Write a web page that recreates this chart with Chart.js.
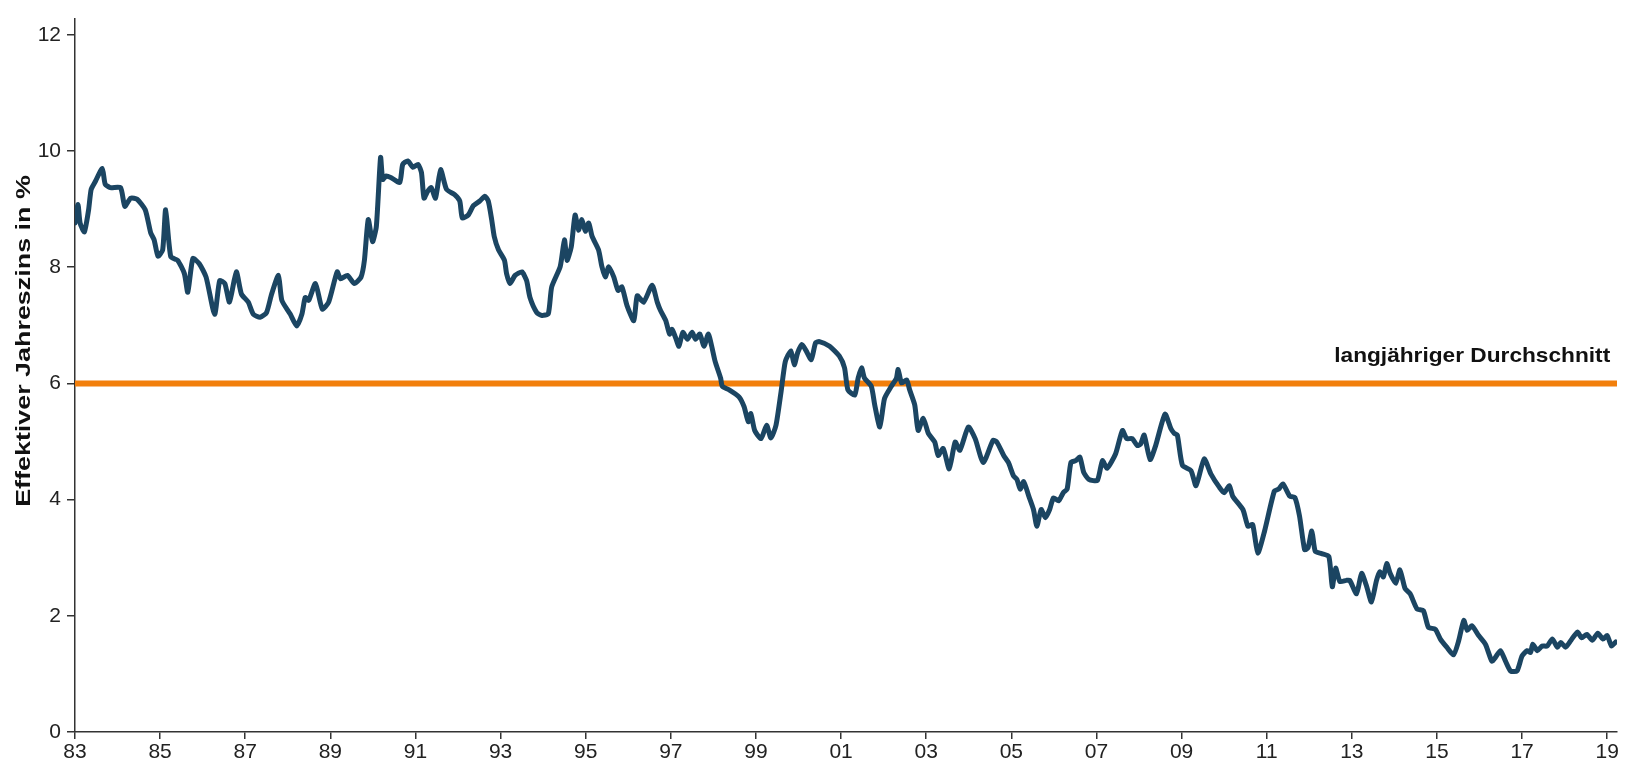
<!DOCTYPE html>
<html>
<head>
<meta charset="utf-8">
<title>Effektiver Jahreszins</title>
<script src="https://cdn.jsdelivr.net/npm/chart.js@4.4.1/dist/chart.umd.min.js"></script>
<style>
  html, body { margin: 0; padding: 0; background: #fff; }
  #wrap { width: 1629px; height: 769px; }
</style>
</head>
<body>
<div id="wrap"><canvas id="rateChart" width="1629" height="769"></canvas></div>
<script>
// dates as decimal years, rates in %
const dates = [
  1983.00, 1983.07, 1983.12, 1983.22, 1983.32, 1983.38, 1983.48, 1983.64, 1983.71, 1983.83,
  1984.07, 1984.17, 1984.31, 1984.46, 1984.65, 1984.78, 1984.86, 1984.95, 1985.06, 1985.13,
  1985.25, 1985.41, 1985.57, 1985.65, 1985.77, 1985.92, 1986.08, 1986.28, 1986.40, 1986.52,
  1986.63, 1986.79, 1986.91, 1987.07, 1987.19, 1987.35, 1987.50, 1987.62, 1987.78, 1987.86,
  1988.06, 1988.21, 1988.33, 1988.41, 1988.49, 1988.65, 1988.81, 1988.96, 1989.16, 1989.24,
  1989.40, 1989.56, 1989.72, 1989.80, 1989.89, 1989.99, 1990.08, 1990.18, 1990.23, 1990.31,
  1990.43, 1990.63, 1990.70, 1990.82, 1990.94, 1991.06, 1991.14, 1991.20, 1991.29, 1991.37,
  1991.47, 1991.59, 1991.73, 1991.92, 1992.04, 1992.10, 1992.24, 1992.36, 1992.51, 1992.63,
  1992.71, 1992.79, 1992.85, 1992.95, 1993.09, 1993.14, 1993.22, 1993.34, 1993.50, 1993.61,
  1993.69, 1993.85, 1993.97, 1994.12, 1994.20, 1994.40, 1994.50, 1994.56, 1994.66, 1994.75,
  1994.83, 1994.91, 1994.99, 1995.07, 1995.15, 1995.30, 1995.38, 1995.46, 1995.54, 1995.66,
  1995.76, 1995.85, 1995.97, 1996.13, 1996.21, 1996.36, 1996.56, 1996.68, 1996.76, 1996.88,
  1996.97, 1997.03, 1997.11, 1997.19, 1997.28, 1997.39, 1997.50, 1997.58, 1997.68, 1997.78,
  1997.88, 1997.96, 1998.04, 1998.17, 1998.21, 1998.37, 1998.60, 1998.72, 1998.82, 1998.88,
  1998.97, 1999.12, 1999.25, 1999.35, 1999.47, 1999.59, 1999.69, 1999.82, 1999.90, 1999.98,
  2000.08, 2000.18, 2000.30, 2000.40, 2000.49, 2000.73, 2000.96, 2001.08, 2001.16, 2001.32,
  2001.40, 2001.48, 2001.55, 2001.71, 2001.79, 2001.91, 2002.02, 2002.18, 2002.30, 2002.34,
  2002.42, 2002.54, 2002.61, 2002.73, 2002.81, 2002.93, 2003.05, 2003.20, 2003.28, 2003.40,
  2003.54, 2003.68, 2003.79, 2003.99, 2004.15, 2004.34, 2004.57, 2004.66, 2004.82, 2004.93,
  2005.05, 2005.13, 2005.21, 2005.29, 2005.41, 2005.52, 2005.60, 2005.70, 2005.80, 2005.90,
  2005.99, 2006.11, 2006.22, 2006.31, 2006.40, 2006.51, 2006.61, 2006.70, 2006.82, 2007.02,
  2007.14, 2007.25, 2007.45, 2007.61, 2007.71, 2007.84, 2007.96, 2008.04, 2008.12, 2008.26,
  2008.39, 2008.61, 2008.75, 2008.83, 2008.90, 2009.02, 2009.22, 2009.34, 2009.53, 2009.69,
  2009.89, 2010.00, 2010.12, 2010.20, 2010.44, 2010.56, 2010.67, 2010.79, 2010.95, 2011.18,
  2011.28, 2011.38, 2011.54, 2011.66, 2011.77, 2011.89, 2011.97, 2012.06, 2012.14, 2012.29,
  2012.46, 2012.54, 2012.62, 2012.72, 2012.87, 2012.95, 2013.11, 2013.23, 2013.35, 2013.46,
  2013.58, 2013.66, 2013.74, 2013.82, 2013.90, 2014.03, 2014.13, 2014.25, 2014.37, 2014.53,
  2014.68, 2014.80, 2014.96, 2015.08, 2015.23, 2015.39, 2015.51, 2015.63, 2015.71, 2015.82,
  2015.98, 2016.14, 2016.29, 2016.37, 2016.49, 2016.61, 2016.73, 2016.88, 2017.00, 2017.12,
  2017.20, 2017.25, 2017.36, 2017.47, 2017.59, 2017.71, 2017.83, 2017.91, 2018.02, 2018.15,
  2018.30, 2018.40, 2018.52, 2018.65, 2018.78, 2018.90, 2019.00, 2019.10, 2019.20
];
const rates = [
  8.76, 9.08, 8.76, 8.61, 8.99, 9.34, 9.48, 9.70, 9.43, 9.37,
  9.37, 9.05, 9.19, 9.17, 8.99, 8.59, 8.47, 8.19, 8.30, 8.99,
  8.18, 8.12, 7.89, 7.57, 8.15, 8.06, 7.83, 7.19, 7.77, 7.72,
  7.40, 7.92, 7.54, 7.40, 7.19, 7.14, 7.22, 7.54, 7.86, 7.43,
  7.19, 6.99, 7.19, 7.48, 7.43, 7.72, 7.28, 7.40, 7.92, 7.80,
  7.86, 7.72, 7.83, 8.12, 8.82, 8.44, 8.70, 9.89, 9.51, 9.57,
  9.54, 9.46, 9.77, 9.83, 9.72, 9.77, 9.63, 9.19, 9.31, 9.37,
  9.19, 9.68, 9.34, 9.25, 9.14, 8.85, 8.90, 9.06, 9.14, 9.22,
  9.14, 8.82, 8.53, 8.30, 8.12, 7.89, 7.72, 7.86, 7.92, 7.77,
  7.48, 7.22, 7.17, 7.20, 7.66, 8.01, 8.47, 8.12, 8.35, 8.90,
  8.64, 8.82, 8.62, 8.76, 8.53, 8.30, 8.01, 7.83, 8.01, 7.83,
  7.60, 7.66, 7.34, 7.08, 7.51, 7.40, 7.69, 7.40, 7.25, 7.08,
  6.85, 6.93, 6.79, 6.64, 6.88, 6.76, 6.88, 6.76, 6.85, 6.64,
  6.85, 6.64, 6.38, 6.09, 5.95, 5.89, 5.77, 5.60, 5.34, 5.48,
  5.19, 5.05, 5.28, 5.06, 5.28, 5.86, 6.38, 6.56, 6.32, 6.53,
  6.67, 6.56, 6.41, 6.70, 6.72, 6.64, 6.47, 6.27, 5.89, 5.80,
  6.09, 6.27, 6.09, 5.95, 5.63, 5.25, 5.74, 5.95, 6.09, 6.24,
  6.01, 6.06, 5.89, 5.63, 5.19, 5.40, 5.14, 4.99, 4.76, 4.88,
  4.53, 4.99, 4.85, 5.25, 5.05, 4.64, 5.02, 4.99, 4.76, 4.64,
  4.41, 4.35, 4.18, 4.31, 4.06, 3.83, 3.54, 3.83, 3.69, 3.83,
  4.03, 3.98, 4.12, 4.18, 4.64, 4.67, 4.73, 4.47, 4.35, 4.33,
  4.67, 4.54, 4.79, 5.19, 5.05, 5.05, 4.93, 4.96, 5.11, 4.69,
  4.93, 5.47, 5.22, 5.14, 5.11, 4.59, 4.50, 4.24, 4.70, 4.44,
  4.21, 4.12, 4.24, 4.06, 3.83, 3.54, 3.57, 3.08, 3.46, 4.15,
  4.18, 4.27, 4.06, 4.04, 3.72, 3.14, 3.17, 3.46, 3.11, 3.07,
  3.02, 2.50, 2.82, 2.59, 2.61, 2.61, 2.38, 2.73, 2.50, 2.24,
  2.61, 2.76, 2.67, 2.90, 2.73, 2.56, 2.79, 2.47, 2.38, 2.12,
  2.09, 1.80, 1.77, 1.60, 1.46, 1.33, 1.57, 1.92, 1.75, 1.83,
  1.66, 1.51, 1.22, 1.28, 1.40, 1.22, 1.05, 1.05, 1.31, 1.40,
  1.37, 1.51, 1.40, 1.48, 1.48, 1.60, 1.46, 1.54, 1.46, 1.58,
  1.72, 1.62, 1.68, 1.58, 1.70, 1.60, 1.66, 1.48, 1.55
];
const xTickYears = [1983, 1985, 1987, 1989, 1991, 1993, 1995, 1997, 1999, 2001,
  2003, 2005, 2007, 2009, 2011, 2013, 2015, 2017, 2019];
const yTickValues = [0, 2, 4, 6, 8, 10, 12];
const averageRate = 6;
const averageLabel = 'langjähriger Durchschnitt';
const yTitle = 'Effektiver Jahreszins in %';

const xStart = 1983;
const xEnd = 2019.23;
const font = '"Liberation Sans", Arial, sans-serif';

// long-run average label + the rotated axis title (drawn by hand so it can be stretched)
const textPlugin = {
  id: 'texts',
  afterDatasetsDraw(chart) {
    const { ctx, scales } = chart;
    const x = scales.x.getPixelForValue(2019);
    const y = scales.y.getPixelForValue(averageRate);
    ctx.save();
    ctx.font = 'bold 21px ' + font;
    ctx.fillStyle = '#111';
    ctx.textAlign = 'right';
    ctx.textBaseline = 'middle';
    ctx.translate(x + 3, y - 27);
    ctx.scale(1.08, 1);
    ctx.fillText(averageLabel, 0, 0);
    ctx.restore();

    ctx.save();
    ctx.font = 'bold 21px ' + font;
    ctx.fillStyle = '#111';
    ctx.textAlign = 'center';
    ctx.textBaseline = 'middle';
    ctx.translate(24, scales.y.getPixelForValue(6.73));
    ctx.rotate(-Math.PI / 2);
    ctx.scale(1.28, 1);
    ctx.fillText(yTitle, 0, 0);
    ctx.restore();
  }
};

new Chart(document.getElementById('rateChart'), {
  type: 'line',
  data: {
    datasets: [
      {
        data: dates.map((d, i) => ({ x: d, y: rates[i] })),
        borderColor: '#1b4562',
        borderWidth: 5,
        pointRadius: 0,
        tension: 0.2,
        borderJoinStyle: 'round',
        borderCapStyle: 'round',
        order: 1
      },
      {
        data: [{ x: xStart, y: averageRate }, { x: xEnd, y: averageRate }],
        borderColor: '#f27f0c',
        borderWidth: 6,
        pointRadius: 0,
        order: 2
      }
    ]
  },
  options: {
    responsive: false,
    animation: false,
    layout: { padding: { left: 12, right: 12, top: 0, bottom: 3 } },
    plugins: { legend: { display: false }, tooltip: { enabled: false } },
    scales: {
      x: {
        type: 'linear',
        min: xStart,
        max: xEnd,
        afterBuildTicks: s => { s.ticks = xTickYears.map(v => ({ value: v })); },
        afterFit: s => { s.height = 34; },
        grid: { drawOnChartArea: false, drawTicks: true, tickLength: 7, color: '#333', lineWidth: 1.5 },
        border: { color: '#333', width: 1.5 },
        ticks: {
          autoSkip: false,
          maxRotation: 0,
          padding: 1,
          color: '#222',
          font: { family: font, size: 21 },
          callback: v => String(v % 100).padStart(2, '0')
        }
      },
      y: {
        min: 0,
        max: 12.28,
        afterBuildTicks: s => { s.ticks = yTickValues.map(v => ({ value: v })); },
        afterFit: s => { s.width = 63; },
        grid: { drawOnChartArea: false, drawTicks: true, tickLength: 8, color: '#333', lineWidth: 1.5 },
        border: { color: '#333', width: 1.5 },
        ticks: {
          padding: 6,
          color: '#222',
          font: { family: font, size: 21 }
        }
      }
    }
  },
  plugins: [textPlugin]
});
</script>
</body>
</html>
